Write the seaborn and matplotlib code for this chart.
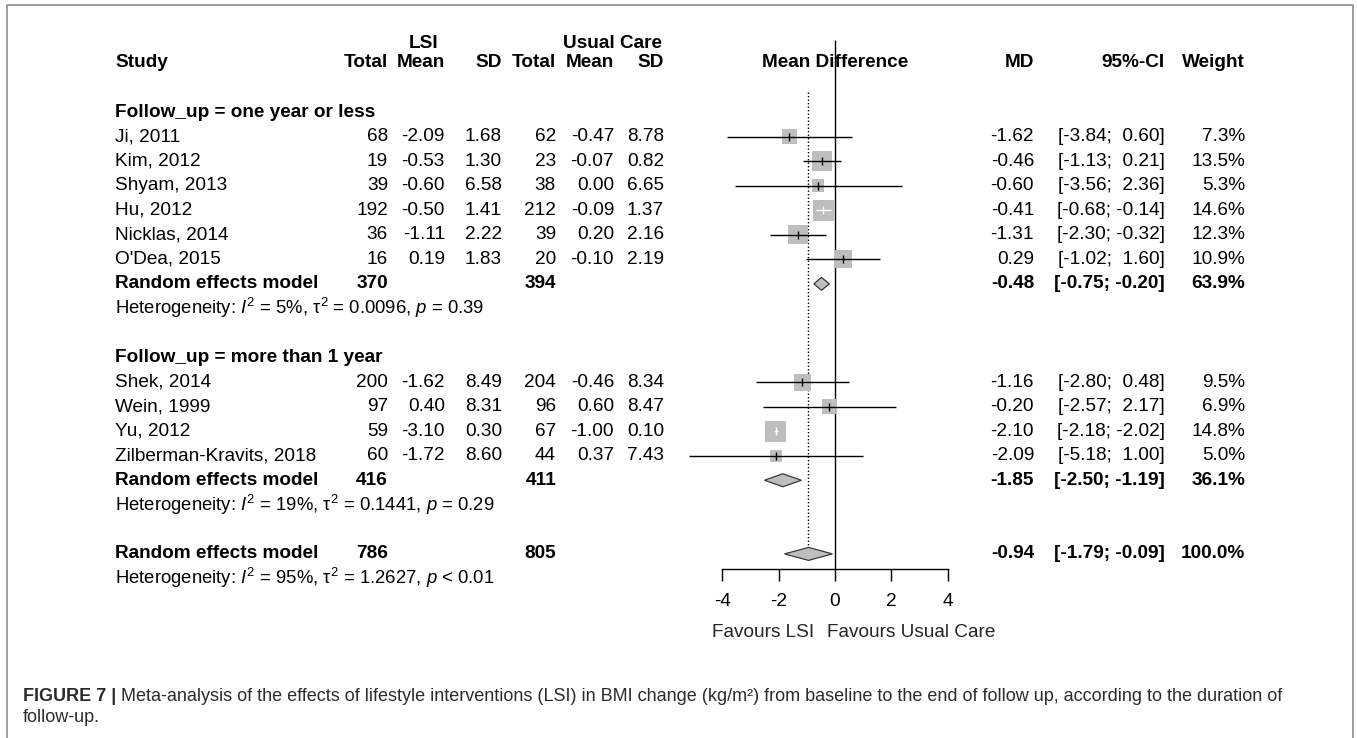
import numpy as np
import pandas as pd
import seaborn as sns
import matplotlib.pyplot as plt
from matplotlib.patches import Polygon
from matplotlib.lines import Line2D

sns.set_style('white')
plt.rcParams['font.family'] = ['Liberation Sans', 'DejaVu Sans']
plt.rcParams['mathtext.fontset'] = 'custom'
plt.rcParams['mathtext.rm'] = 'Liberation Sans'
plt.rcParams['mathtext.it'] = 'Liberation Sans:italic'
plt.rcParams['mathtext.bf'] = 'Liberation Sans:bold'
plt.rcParams['axes.unicode_minus'] = False

# ---- data ----
studies = ["Ji, 2011", "Kim, 2012", "Shyam, 2013", "Hu, 2012", "Nicklas, 2014",
           "O'Dea, 2015", "Shek, 2014", "Wein, 1999", "Yu, 2012",
           "Zilberman-Kravits, 2018"]
group = [0, 0, 0, 0, 0, 0, 1, 1, 1, 1]
n_e = [68, 19, 39, 192, 36, 16, 200, 97, 59, 60]
mean_e = [-2.09, -0.53, -0.60, -0.50, -1.11, 0.19, -1.62, 0.40, -3.10, -1.72]
sd_e = [1.68, 1.30, 6.58, 1.41, 2.22, 1.83, 8.49, 8.31, 0.30, 8.60]
n_c = [62, 23, 38, 212, 39, 20, 204, 96, 67, 44]
mean_c = [-0.47, -0.07, 0.00, -0.09, 0.20, -0.10, -0.46, 0.60, -1.00, 0.37]
sd_c = [8.78, 0.82, 6.65, 1.37, 2.16, 2.19, 8.34, 8.47, 0.10, 7.43]
md = [-1.62, -0.46, -0.60, -0.41, -1.31, 0.29, -1.16, -0.20, -2.10, -2.09]
ci_lo = [-3.84, -1.13, -3.56, -0.68, -2.30, -1.02, -2.80, -2.57, -2.18, -5.18]
ci_hi = [0.60, 0.21, 2.36, -0.14, -0.32, 1.60, 0.48, 2.17, -2.02, 1.00]
weight = [7.3, 13.5, 5.3, 14.6, 12.3, 10.9, 9.5, 6.9, 14.8, 5.0]

sub_labels = ["Follow_up = one year or less", "Follow_up = more than 1 year"]
sub_n_e = [370, 416]
sub_n_c = [394, 411]
sub_md = [-0.48, -1.85]
sub_lo = [-0.75, -2.50]
sub_hi = [-0.20, -1.19]
sub_weight = [63.9, 36.1]
sub_i2 = ["5%", "19%"]
sub_tau2 = ["0.0096", "0.1441"]
sub_p = ["= 0.39", "= 0.29"]

all_n_e, all_n_c = 786, 805
all_md, all_lo, all_hi, all_weight = -0.94, -1.79, -0.09, 100.0
all_i2, all_tau2, all_p = "95%", "1.2627", "< 0.01"

xticks = [-4, -2, 0, 2, 4]
label_left = "Favours LSI"
label_right = "Favours Usual Care"
caption_bold = "FIGURE 7 |"
caption = (" Meta-analysis of the effects of lifestyle interventions (LSI) in BMI change "
           "(kg/m\u00b2) from baseline to the end of follow up, according to the duration of")
caption2 = "follow-up."

# ---- layout (pixels) ----
W, H, DPI = 1357, 738, 100
PX = 72 / DPI
ROW0, ROWH = 112, 24.55      # pixel y of first row, row height
X0, XU = 835, 28.2           # pixel x of MD = 0, pixels per unit
FS = 19 * PX
FS_HET = 18.5 * PX
FS_CAP = 18 * PX
X_STUDY = 115
COLS = [388, 445, 502, 556, 614, 664]   # right edges: Total Mean SD | Total Mean SD
X_MD, X_CI, X_W = 1034, 1165, 1245
GREY = '#bebebe'

# row positions
study_row, sub_row, head_row, het_row = [], [], [], []
k = 0
for g in range(2):
    head_row.append(k)
    k += 1
    for i in range(len(studies)):
        if group[i] == g:
            study_row.append(k)
            k += 1
    sub_row.append(k)
    het_row.append(k + 1)
    k += 3
all_row, all_het_row = k, k + 1
axis_row = all_row + 0.6

fig = plt.figure(figsize=(W / DPI, H / DPI), dpi=DPI)
ylim = ((H - ROW0) / ROWH, -ROW0 / ROWH)

ax = fig.add_axes([0, 0, 1, 1])
ax.set_xlim(-X0 / XU, (W - X0) / XU)
ax.set_ylim(*ylim)
ax.patch.set_alpha(0)

tx = fig.add_axes([0, 0, 1, 1], zorder=-1)
tx.set_xlim(0, W)
tx.set_ylim(*ylim)
tx.axis('off')

# ---- forest panel ----
df = pd.DataFrame({'md': md, 'row': study_row, 'weight': weight})
sns.scatterplot(data=df, x='md', y='row', size='weight', size_norm=(0, max(weight)),
                sizes=(0, (5.5 * PX) ** 2 * max(weight)), marker='s', color=GREY,
                edgecolor='none', legend=False, ax=ax, zorder=2)

# CI line drawn white when it is hidden inside the box
side_px = [5.5 * np.sqrt(w) for w in weight]
line_col = ['white' if (hi - lo) / 2 * XU < s / 2 else 'black'
            for lo, hi, s in zip(ci_lo, ci_hi, side_px)]
ax.hlines(study_row, ci_lo, ci_hi, colors=line_col, lw=1.4 * PX, zorder=3)
ax.scatter(md, study_row, marker='|', s=(8 * PX) ** 2, c=line_col, lw=1.4 * PX, zorder=4)

dh = 6.5 / ROWH
for m, lo, hi, r in zip(sub_md + [all_md], sub_lo + [all_lo], sub_hi + [all_hi],
                        sub_row + [all_row]):
    ax.add_patch(Polygon([(lo, r), (m, r - dh), (hi, r), (m, r + dh)], closed=True,
                         facecolor=GREY, edgecolor='#333333', lw=1.2 * PX, zorder=3))

ax.vlines(0, -2.95, axis_row, colors='black', lw=1.4 * PX, zorder=1)
ax.vlines(all_md, -0.8, all_row, colors='black', lw=1.4 * PX, linestyles=(0, (1, 1.5)),
          zorder=1)

for s in ['top', 'left', 'right']:
    ax.spines[s].set_visible(False)
ax.spines['bottom'].set_position(('data', axis_row))
ax.spines['bottom'].set_bounds(xticks[0], xticks[-1])
ax.spines['bottom'].set_color('black')
ax.spines['bottom'].set_linewidth(1.4 * PX)
ax.set_xticks(xticks)
ax.set_yticks([])
ax.set_xlabel('')
ax.set_ylabel('')
ax.tick_params(axis='x', bottom=True, direction='out', length=12 * PX, width=1.4 * PX,
               pad=9, labelsize=FS, colors='black')

fav_row = all_row + 3.2
ax.text(-0.75, fav_row, label_left, ha='right', va='center', fontsize=FS)
ax.text(-0.3, fav_row, label_right, ha='left', va='center', fontsize=FS)


# ---- table text ----
def put(x, r, s, ha='right', bold=False, size=FS):
    tx.text(x, r, s, ha=ha, va='center', fontsize=size,
            fontweight='bold' if bold else 'normal', color='black')


hr = -2
put(X_STUDY, hr, "Study", ha='left', bold=True)
for x, h in zip(COLS, ["Total", "Mean", "SD", "Total", "Mean", "SD"]):
    put(x, hr, h, bold=True)
put(X0, hr, "Mean Difference", ha='center', bold=True)
put(X_MD, hr, "MD", bold=True)
put(X_CI, hr, "95%-CI", bold=True)
put(X_W, hr, "Weight", bold=True)
put(424, hr - 0.8, "LSI", ha='center', bold=True)
put(COLS[5] - 2, hr - 0.8, "Usual Care", bold=True)


def ci_txt(lo, hi):
    return f"[{lo:5.2f}; {hi:5.2f}]"


for i, r in enumerate(study_row):
    put(X_STUDY, r, studies[i], ha='left')
    vals = [f"{n_e[i]}", f"{mean_e[i]:.2f}", f"{sd_e[i]:.2f}",
            f"{n_c[i]}", f"{mean_c[i]:.2f}", f"{sd_c[i]:.2f}"]
    for x, v in zip(COLS, vals):
        put(x, r, v)
    put(X_MD, r, f"{md[i]:.2f}")
    put(X_CI, r, ci_txt(ci_lo[i], ci_hi[i]))
    put(X_W, r, f"{weight[i]:.1f}%")

het_fmt = "Heterogeneity: $I^2$ = {}, $\\mathrm{{\\tau}}^2$ = {}, $p$ {}"
for g in range(2):
    put(X_STUDY, head_row[g], sub_labels[g], ha='left', bold=True)
    r = sub_row[g]
    put(X_STUDY, r, "Random effects model", ha='left', bold=True)
    put(COLS[0], r, f"{sub_n_e[g]}", bold=True)
    put(COLS[3], r, f"{sub_n_c[g]}", bold=True)
    put(X_MD, r, f"{sub_md[g]:.2f}", bold=True)
    put(X_CI, r, ci_txt(sub_lo[g], sub_hi[g]), bold=True)
    put(X_W, r, f"{sub_weight[g]:.1f}%", bold=True)
    put(X_STUDY, het_row[g], het_fmt.format(sub_i2[g], sub_tau2[g], sub_p[g]),
        ha='left', size=FS_HET)

put(X_STUDY, all_row, "Random effects model", ha='left', bold=True)
put(COLS[0], all_row, f"{all_n_e}", bold=True)
put(COLS[3], all_row, f"{all_n_c}", bold=True)
put(X_MD, all_row, f"{all_md:.2f}", bold=True)
put(X_CI, all_row, ci_txt(all_lo, all_hi), bold=True)
put(X_W, all_row, f"{all_weight:.1f}%", bold=True)
put(X_STUDY, all_het_row, het_fmt.format(all_i2, all_tau2, all_p), ha='left', size=FS_HET)

# ---- frame and caption ----
fig.add_artist(Line2D([7 / W, 7 / W, 1353 / W, 1353 / W], [0, 1 - 5 / H, 1 - 5 / H, 0],
                      transform=fig.transFigure, color='#808080', lw=1.5 * PX))
cap_col = '#2b2b2b'
t1 = fig.text(23 / W, 1 - 701 / H, caption_bold, fontsize=FS_CAP, fontweight='bold',
              color=cap_col, va='baseline')
tx.annotate(caption, xy=(1, 0), xycoords=t1, va='bottom', ha='left', fontsize=FS_CAP,
            color=cap_col, annotation_clip=False)
fig.text(23 / W, 1 - 722 / H, caption2, fontsize=FS_CAP, color=cap_col, va='baseline')

fig.savefig('out.png', dpi=DPI)
